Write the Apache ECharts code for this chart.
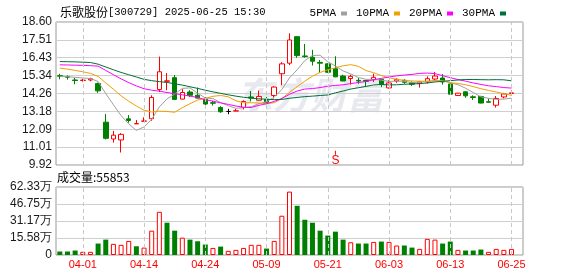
<!DOCTYPE html>
<html>
<head>
<meta charset="utf-8">
<script src="https://cdn.jsdelivr.net/npm/echarts@6.0.0/dist/echarts.min.js"></script>
<style>
html,body{margin:0;padding:0;background:#fff;}
#c{width:578px;height:276px;}
</style>
</head>
<body>
<div id="c"></div>
<script>
// ---------- data ----------
const stockName = '乐歌股份';
const stockCode = '[300729]';
const stamp = ' 2025-06-25 15:30';
const volumeTitle = '成交量:';
const signalText = 'S';
const signalDate = '05-22';
const watermark = '东方财富';

const dates = ['03-27','03-28','03-31','04-01','04-02','04-03','04-07','04-08','04-09','04-10',
'04-11','04-14','04-15','04-16','04-17','04-18','04-21','04-22','04-23','04-24',
'04-25','04-28','04-29','04-30','05-06','05-07','05-08','05-09','05-12','05-13',
'05-14','05-15','05-16','05-19','05-20','05-21','05-22','05-23','05-26','05-27',
'05-28','05-29','05-30','06-03','06-04','06-05','06-06','06-09','06-10','06-11',
'06-12','06-13','06-16','06-17','06-18','06-19','06-20','06-23','06-24','06-25'];

const opens = [15.34,15.28,15.08,15.05,15.08,14.86,12.52,11.50,11.44,12.72,
12.42,12.58,12.73,14.50,15.00,15.22,13.92,14.35,14.15,13.91,
13.70,13.41,13.17,13.20,13.41,14.05,13.85,13.91,14.14,15.46,
16.10,17.71,16.54,16.46,16.15,16.06,15.76,15.32,15.17,15.06,
15.05,15.10,15.12,14.60,15.02,15.06,14.92,14.86,14.96,15.14,
15.20,14.84,14.14,14.36,14.06,14.08,13.76,13.55,14.05,14.26];

const closes = [15.31,15.25,15.05,15.07,15.15,14.42,11.54,11.73,11.78,12.62,
12.43,12.59,14.02,15.58,15.03,13.90,14.32,14.15,13.98,13.62,
13.67,13.15,13.17,13.21,13.78,13.98,14.08,13.73,14.65,16.06,
17.51,16.56,16.50,16.22,16.10,15.55,15.27,15.02,15.30,15.02,
15.00,15.24,14.80,14.90,15.12,14.94,14.82,14.96,15.16,15.32,
14.96,14.22,14.28,14.12,14.02,13.68,13.73,13.96,14.23,14.30];

const lows = [15.12,15.10,14.82,14.98,15.00,14.30,11.47,11.28,10.68,12.49,
12.42,12.58,12.61,14.35,14.46,13.88,13.90,14.05,13.95,13.55,
13.53,13.09,13.00,13.20,13.29,13.78,13.85,13.67,13.96,14.76,
15.98,16.43,16.43,15.96,15.50,15.50,15.25,15.00,14.80,14.85,
14.66,14.96,14.64,14.56,14.90,14.85,14.72,14.62,14.86,15.06,
14.80,14.20,14.12,14.00,13.87,13.66,13.72,13.41,13.96,14.15];

const highs = [15.46,15.36,15.20,15.15,15.22,14.92,13.01,11.99,11.85,12.95,
12.65,12.81,14.15,16.50,15.50,15.38,14.52,14.46,14.62,14.05,
13.81,13.49,13.33,13.33,13.85,14.41,14.44,14.05,14.70,16.16,
17.91,17.73,17.27,16.91,16.30,16.10,16.52,15.40,15.40,15.20,
15.08,15.46,15.14,15.06,15.18,15.12,15.00,15.02,15.30,15.56,
15.44,14.88,14.30,14.40,14.15,14.12,13.95,14.11,14.30,14.44];

const volumes = [32000,32000,41000,29000,29000,105000,141000,102000,93000,129000,
80000,68000,223000,396000,296000,223000,159000,141000,126000,96000,
65000,77000,38000,47000,65000,93000,93000,59000,129000,360000,
581000,451000,323000,296000,223000,178000,214000,141000,117000,105000,
105000,120000,123000,120000,87000,87000,68000,56000,148000,141000,
105000,123000,47000,41000,41000,50000,29000,56000,47000,55853];

const ma5 = [15.30,15.28,15.24,15.20,15.17,14.99,14.25,13.58,12.92,12.42,
12.02,12.23,12.69,13.45,13.93,14.22,14.57,14.60,14.28,13.99,
13.95,13.71,13.52,13.36,13.40,13.46,13.64,13.76,14.04,14.50,
15.21,15.70,16.26,16.57,16.58,16.19,15.93,15.63,15.45,15.23,
15.12,15.12,15.07,14.99,15.01,15.00,14.92,14.95,15.00,15.04,
15.04,14.92,14.79,14.58,14.32,14.06,13.97,13.90,13.92,13.98];

const ma10 = [15.80,15.74,15.66,15.58,15.48,15.30,14.90,14.52,14.12,13.79,
13.50,13.24,13.14,13.19,13.17,13.12,13.40,13.64,13.86,13.96,
14.09,14.14,14.06,13.82,13.70,13.70,13.68,13.64,13.70,13.95,
14.33,14.67,15.01,15.31,15.54,15.70,15.82,15.94,16.01,15.91,
15.65,15.52,15.35,15.22,15.12,15.06,15.02,15.01,15.00,15.03,
15.02,14.92,14.87,14.79,14.68,14.55,14.45,14.35,14.25,14.15];

const ma20 = [16.00,15.99,15.98,15.97,15.95,15.92,15.66,15.40,15.15,14.92,
14.72,14.55,14.46,14.40,14.32,14.25,14.18,14.10,14.02,13.88,
13.80,13.69,13.60,13.50,13.43,13.41,13.54,13.64,13.78,13.96,
14.21,14.41,14.53,14.56,14.62,14.70,14.75,14.79,14.86,14.93,
14.99,15.10,15.18,15.26,15.33,15.38,15.42,15.48,15.50,15.47,
15.34,15.22,15.11,15.01,14.90,14.81,14.73,14.68,14.62,14.59];

const ma30 = [16.20,16.19,16.18,16.16,16.14,16.04,15.87,15.70,15.54,15.40,
15.26,15.12,15.04,14.98,14.93,14.85,14.77,14.67,14.57,14.46,
14.36,14.27,14.18,14.10,14.03,13.98,13.94,13.91,13.89,13.90,
13.97,14.02,14.07,14.10,14.14,14.17,14.30,14.41,14.53,14.61,
14.69,14.78,14.81,14.78,14.79,14.82,14.84,14.86,14.90,14.96,
15.00,15.04,15.08,15.11,15.11,15.10,15.09,15.10,15.09,15.03];

const maNames = ['5PMA','10PMA','20PMA','30PMA'];
const maColors = ['#a0a0a0','#f0a000','#ff00ff','#00703a'];

const xTickLabels = ['04-01','04-14','04-24','05-09','05-21','06-03','06-13','06-25'];
const priceTickLabels = ['9.92','11.01','12.09','13.18','14.26','15.34','16.43','17.51','18.60'];
const volTickLabels = ['0','15.58万','31.17万','46.75万','62.33万'];

// ---------- build ----------
const RED = '#ff0000', GREEN = '#008000';
const cats = dates.concat(['']);
const kData = dates.map((d, i) => [opens[i], closes[i], lows[i], highs[i]]);
const volData = volumes.map((v, i) => {
  const up = i === 0 ? closes[0] >= opens[0] : closes[i] >= closes[i - 1];
  return {
    value: v,
    itemStyle: up ? {color: '#ffffff', borderColor: RED, borderWidth: 1}
                  : {color: GREEN, borderColor: GREEN, borderWidth: 0}
  };
});
const pMin = parseFloat(priceTickLabels[0]);
const pMax = parseFloat(priceTickLabels[priceTickLabels.length - 1]);
const pInt = (pMax - pMin) / (priceTickLabels.length - 1);
const vMax = parseFloat(volTickLabels[volTickLabels.length - 1]) * 10000;
const vInt = vMax / (volTickLabels.length - 1);

function nearestLabel(arr, v, scale) {
  let best = arr[0], bd = Infinity;
  arr.forEach(s => { const d = Math.abs(parseFloat(s) * scale - v); if (d < bd) { bd = d; best = s; } });
  return best;
}

const dashLine = {
  silent: true, symbol: 'none', animation: false,
  label: {show: false},
  lineStyle: {type: [4, 3], color: '#c8c8c8', width: 1},
  emphasis: {disabled: true},
  data: xTickLabels.map(d => ({xAxis: d}))
};

const labelFont = '"Liberation Sans", Arial, sans-serif';

const option = {
  animation: false,
  backgroundColor: '#ffffff',
  title: {
    text: '{a|' + stockName + '}{b|' + stockCode + stamp + '}',
    left: 55, top: 1,
    textStyle: {
      fontWeight: 'normal',
      rich: {
        a: {fontSize: 12, fontWeight: 'normal', fontFamily: '"Noto Sans CJK SC"', color: '#000'},
        b: {fontSize: 10.5, fontWeight: 'normal', fontFamily: '"Liberation Mono", monospace', color: '#000'}
      }
    }
  },
  legend: {
    data: maNames,
    right: 67, top: 3,
    align: 'right',
    icon: 'rect',
    itemWidth: 6, itemHeight: 4, itemGap: 9,
    textStyle: {fontSize: 11, fontFamily: '"Liberation Mono", monospace', color: '#000', padding: [0, 0, 0, 0]},
    selectedMode: false
  },
  graphic: [
    {type: 'text', left: 236, top: 76, z: 0, silent: true,
     style: {text: watermark, fill: 'rgba(190,192,208,0.35)', font: 'italic bold 37px "Noto Sans CJK SC"'}},
    {type: 'text', left: 57, top: 171, silent: true,
     style: {text: volumeTitle + volumes[volumes.length - 1], fill: '#000', font: '12px "Noto Sans CJK SC"'}}
  ],
  grid: [
    {left: 56, right: 55, top: 22, height: 143, show: true, borderColor: '#999', borderWidth: 1, backgroundColor: 'transparent'},
    {left: 56, right: 55, top: 187, height: 68, show: true, borderColor: '#999', borderWidth: 1, backgroundColor: 'transparent'}
  ],
  xAxis: [
    {type: 'category', gridIndex: 0, data: cats, boundaryGap: true,
     axisLine: {show: false}, axisTick: {show: false}, axisLabel: {show: false}, splitLine: {show: false}},
    {type: 'category', gridIndex: 1, data: cats, boundaryGap: true,
     axisLine: {show: false}, axisTick: {show: false}, splitLine: {show: false},
     axisLabel: {show: true, color: RED, fontSize: 11, fontFamily: labelFont, margin: 4,
                 interval: (idx, val) => xTickLabels.indexOf(val) >= 0}}
  ],
  yAxis: [
    {type: 'value', gridIndex: 0, min: pMin, max: pMax, interval: pInt,
     axisLine: {show: false}, axisTick: {show: false},
     axisLabel: {color: '#1a1a1a', fontSize: 12, fontFamily: labelFont, margin: 4, showMinLabel: true, showMaxLabel: true,
                 formatter: v => nearestLabel(priceTickLabels, v, 1)},
     splitLine: {show: true, lineStyle: {color: '#cfcfcf', width: 1}}},
    {type: 'value', gridIndex: 1, min: 0, max: vMax, interval: vInt,
     axisLine: {show: false}, axisTick: {show: false},
     axisLabel: {color: '#1a1a1a', fontSize: 12, fontFamily: labelFont, margin: 4, showMinLabel: true, showMaxLabel: true,
                 formatter: v => nearestLabel(volTickLabels, v, 10000)},
     splitLine: {show: true, lineStyle: {color: '#cfcfcf', width: 1}}}
  ],
  series: [
    {type: 'candlestick', name: 'K', xAxisIndex: 0, yAxisIndex: 0, data: kData,
     barWidth: 5, z: 3,
     itemStyle: {color: '#ffffff', color0: GREEN, borderColor: RED, borderColor0: GREEN,
                 borderColorDoji: '#000000', borderWidth: 1},
     emphasis: {disabled: true},
     markLine: dashLine,
     markPoint: {
       silent: true, animation: false,
       symbol: 'rect', symbolSize: [1, 4],
       itemStyle: {color: RED},
       label: {show: true, position: 'bottom', distance: 0, formatter: signalText, color: RED,
               fontSize: 12, fontFamily: labelFont},
       data: [{coord: [signalDate, 10.66]}]
     }},
    ...maNames.map((n, k) => ({
      type: 'line', name: n, xAxisIndex: 0, yAxisIndex: 0,
      data: [ma5, ma10, ma20, ma30][k],
      showSymbol: false, symbol: 'none', smooth: false, z: 4,
      lineStyle: {color: maColors[k], width: 1},
      itemStyle: {color: maColors[k]},
      emphasis: {disabled: true}
    })),
    {type: 'bar', name: 'VOL', xAxisIndex: 1, yAxisIndex: 1, data: volData,
     barWidth: 5, z: 3,
     emphasis: {disabled: true},
     markLine: dashLine}
  ]
};

const chart = echarts.init(document.getElementById('c'), null, {renderer: 'canvas'});
chart.setOption(option);
</script>
</body>
</html>
